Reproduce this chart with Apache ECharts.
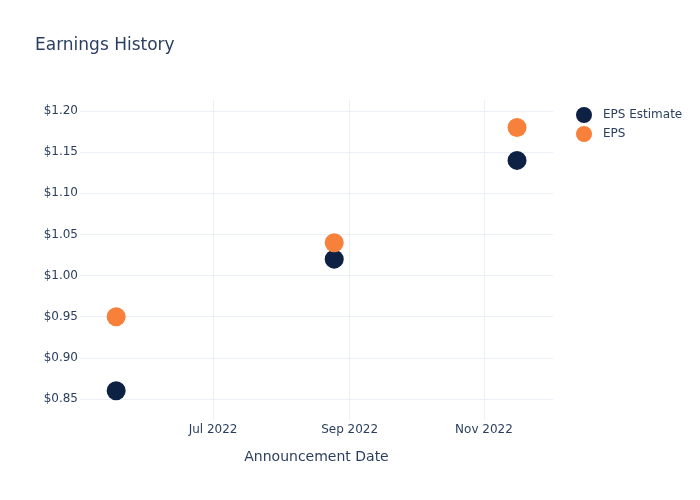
<!DOCTYPE html>
<html><head><meta charset="utf-8">
<script src="https://cdn.jsdelivr.net/npm/echarts@6/dist/echarts.min.js"></script>
<style>html,body{margin:0;padding:0;background:#fff}#c{width:700px;height:500px}</style>
</head><body><div id="c"></div>
<script>
const dates = ['2022-05-18', '2022-08-25', '2022-11-16'];
const epsEstimate = [0.86, 1.02, 1.14];
const eps = [0.95, 1.04, 1.18];
const xTicks = ['2022-07-01', '2022-09-01', '2022-11-01'];
const yTicks = [0.85, 0.90, 0.95, 1.00, 1.05, 1.10, 1.15, 1.20];
const xRange = ['2022-05-01T14:00:00', '2022-12-02T08:00:00'];
const yRange = [0.8245, 1.2134];

const ts = s => Date.parse(s + (s.length === 10 ? 'T00:00:00Z' : 'Z'));
const months = ['Jan','Feb','Mar','Apr','May','Jun','Jul','Aug','Sep','Oct','Nov','Dec'];
const txt = '#2a3f5f', grid = '#ebf0f8';
const font = 'DejaVu Sans, Open Sans, sans-serif';

const chart = echarts.init(document.getElementById('c'), null, {renderer: 'canvas'});
chart.setOption({
  animation: false,
  backgroundColor: '#fff',
  textStyle: {fontFamily: font},
  title: {text: 'Earnings History', left: 30, top: 32,
    textStyle: {fontSize: 17, fontWeight: 'normal', color: txt, fontFamily: font}},
  legend: {
    orient: 'vertical', left: 571, top: 102, itemGap: 3, itemWidth: 16, itemHeight: 16,
    icon: 'circle', textStyle: {color: txt, fontSize: 12, fontFamily: font, padding: [0, 0, 0, 6]},
    data: ['EPS Estimate', 'EPS']
  },
  grid: {left: 80, right: 147, top: 100, bottom: 80, containLabel: false},
  xAxis: {
    type: 'value', min: ts(xRange[0]), max: ts(xRange[1]), scale: true,
    name: 'Announcement Date', nameLocation: 'middle', nameGap: 30,
    nameTextStyle: {color: txt, fontSize: 14, fontFamily: font},
    axisLine: {show: false},
    axisTick: {show: false, customValues: xTicks.map(ts)},
    axisLabel: {customValues: xTicks.map(ts), color: txt, fontSize: 12, margin: 4, fontFamily: font,
      formatter: v => { const d = new Date(v); return months[d.getUTCMonth()] + ' ' + d.getUTCFullYear(); }},
    splitLine: {show: true, lineStyle: {color: grid, width: 1}}
  },
  yAxis: {
    type: 'value', min: yRange[0], max: yRange[1], scale: true,
    axisLine: {show: false},
    axisTick: {show: false, customValues: yTicks},
    axisLabel: {customValues: yTicks, color: txt, fontSize: 12, margin: 2, fontFamily: font,
      formatter: v => '$' + v.toFixed(2)},
    splitLine: {show: true, lineStyle: {color: grid, width: 1}}
  },
  series: [
    {name: 'EPS Estimate', type: 'scatter', symbol: 'circle', symbolSize: 19,
      itemStyle: {color: '#0d2145', opacity: 1},
      data: dates.map((d, i) => [ts(d), epsEstimate[i]])},
    {name: 'EPS', type: 'scatter', symbol: 'circle', symbolSize: 19,
      itemStyle: {color: '#f7803a', opacity: 1},
      data: dates.map((d, i) => [ts(d), eps[i]])}
  ]
});
</script></body></html>
